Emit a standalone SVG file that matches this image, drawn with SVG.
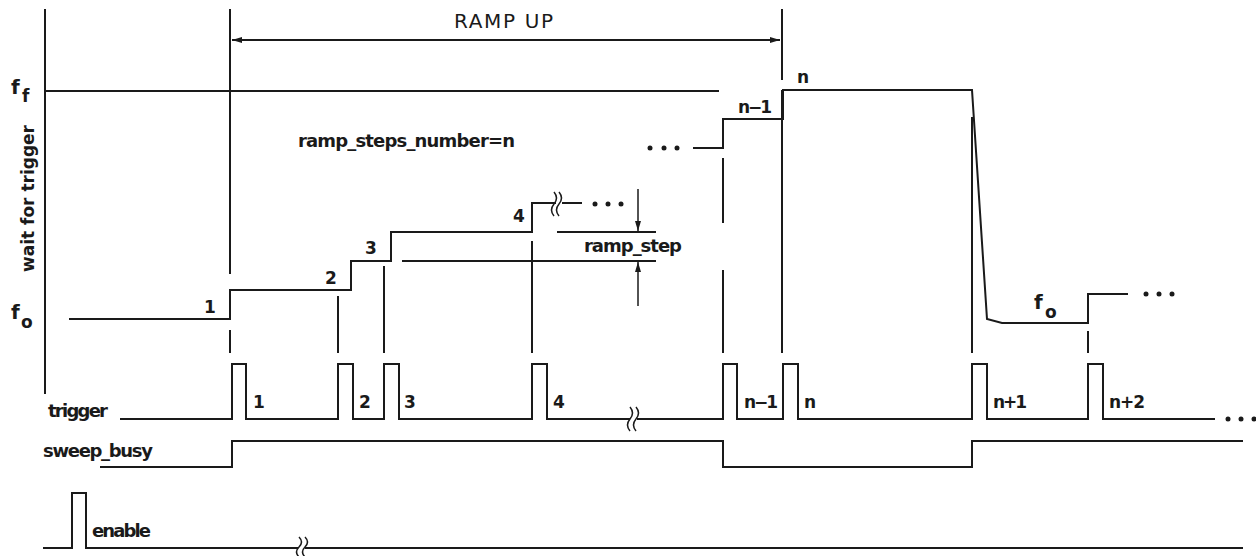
<svg xmlns="http://www.w3.org/2000/svg" width="1256" height="556" viewBox="0 0 1256 556">
<defs>
<marker id="ah" viewBox="0 0 10 6" refX="10" refY="3" markerWidth="10" markerHeight="6" markerUnits="userSpaceOnUse" orient="auto-start-reverse">
<path d="M0,0 L10,3 L0,6 Z" fill="#1a1a1a"/>
</marker>
</defs>
<style>
.ln{fill:none;stroke:#1a1a1a;stroke-width:2;stroke-linejoin:miter}
.sq{fill:none;stroke:#1a1a1a;stroke-width:1.5}
.t{font-family:"DejaVu Sans","Liberation Sans",sans-serif;font-weight:bold;font-size:17px;fill:#1a1a1a}
.big{font-size:18px}
.f{font-size:20px}
.tt{font-family:"DejaVu Sans","Liberation Sans",sans-serif;font-size:20px;fill:#1a1a1a}
.dot{fill:#1a1a1a}
</style>
<rect width="1256" height="556" fill="#ffffff"/>

<g id="axis">
<line class="ln" x1="45" y1="9" x2="45" y2="394"/>
<text class="t f" x="11" y="94">f</text>
<text class="t" x="22" y="102">f</text>
<text class="t f" x="11" y="319">f</text>
<text class="t" x="21" y="328">o</text>
<text class="t" transform="translate(34,272) rotate(-90)" textLength="147">wait for trigger</text>
</g>

<g id="ramp-up">
<line class="ln" x1="230" y1="9" x2="230" y2="274"/>
<line class="ln" x1="782" y1="9" x2="782" y2="80"/>
<line class="ln" x1="232" y1="40" x2="780" y2="40" marker-start="url(#ah)" marker-end="url(#ah)"/>
<text class="tt" x="454" y="28" textLength="99">RAMP  UP</text>
</g>

<g id="ff-line">
<line class="ln" x1="45" y1="91" x2="719" y2="91"/>
</g>

<g id="label-steps">
<text class="t big" x="298" y="147" textLength="217">ramp_steps_number=n</text>
</g>

<g id="frequency">
<polyline class="ln" points="69,319 230,319 230,290 351,290 351,261 391,261 391,232 532,232 532,203 556,203"/>
<line class="ln" x1="562" y1="203" x2="582" y2="203"/>
<path class="sq" d="M554,192 q5,6 0,12 q-5,6 0,12 M559,192 q5,6 0,12 q-5,6 0,12"/>
<circle class="dot" cx="595" cy="204" r="2.5"/>
<circle class="dot" cx="608" cy="204" r="2.5"/>
<circle class="dot" cx="621" cy="204" r="2.5"/>
<circle class="dot" cx="650" cy="148" r="2.5"/>
<circle class="dot" cx="664" cy="148" r="2.5"/>
<circle class="dot" cx="677" cy="148" r="2.5"/>
<polyline class="ln" points="693,148 723,148 723,119 783,119 783,90 972,90 987,319 1002,323 1088,323 1088,294 1128,294"/>
<circle class="dot" cx="1146" cy="294" r="2.5"/>
<circle class="dot" cx="1159" cy="294" r="2.5"/>
<circle class="dot" cx="1172" cy="294" r="2.5"/>
<text class="t" x="204" y="313">1</text>
<text class="t" x="325" y="284">2</text>
<text class="t" x="365" y="254">3</text>
<text class="t" x="513" y="222">4</text>
<text class="t" x="738" y="113" textLength="34">n−1</text>
<text class="t" x="797" y="83">n</text>
<text class="t f" x="1034" y="309">f</text>
<text class="t" x="1045" y="318">o</text>
</g>

<g id="ramp-step">
<line class="ln" x1="557" y1="232" x2="656" y2="232"/>
<line class="ln" x1="402" y1="261" x2="656" y2="261"/>
<line class="ln" x1="638" y1="189" x2="638" y2="231" marker-end="url(#ah)" style="stroke-width:1.5"/>
<line class="ln" x1="638" y1="306" x2="638" y2="262" marker-end="url(#ah)" style="stroke-width:1.5"/>
<text class="t big" x="584" y="252" textLength="98">ramp_step</text>
</g>

<g id="markers">
<line class="ln" x1="230" y1="330" x2="230" y2="353"/>
<line class="ln" x1="338" y1="296" x2="338" y2="353"/>
<line class="ln" x1="384" y1="266" x2="384" y2="353"/>
<line class="ln" x1="532" y1="241" x2="532" y2="353"/>
<line class="ln" x1="723" y1="158" x2="723" y2="223"/>
<line class="ln" x1="723" y1="270" x2="723" y2="353"/>
<line class="ln" x1="782" y1="90" x2="782" y2="353"/>
<line class="ln" x1="972" y1="117" x2="972" y2="353"/>
<line class="ln" x1="1088" y1="331" x2="1088" y2="353"/>
</g>

<g id="trigger">
<text class="t big" x="48" y="417" textLength="60">trigger</text>
<polyline class="ln" points="120,419 232,419 232,364 246,364 246,419 338,419 338,364 353,364 353,419 384,419 384,364 399,364 399,419 532,419 532,364 547,364 547,419 630,419"/>
<polyline class="ln" points="637,419 723,419 723,364 737,364 737,419 783,419 783,364 798,364 798,419 972,419 972,364 987,364 987,419 1088,419 1088,364 1103,364 1103,419 1215,419"/>
<path class="sq" d="M630,407 q5,6 0,12 q-5,6 0,12 M636,407 q5,6 0,12 q-5,6 0,12"/>
<circle class="dot" cx="1228" cy="419" r="2.5"/>
<circle class="dot" cx="1241" cy="419" r="2.5"/>
<circle class="dot" cx="1254" cy="419" r="2.5"/>
<text class="t" x="253" y="408">1</text>
<text class="t" x="359" y="408">2</text>
<text class="t" x="404" y="408">3</text>
<text class="t" x="553" y="408">4</text>
<text class="t" x="744" y="408" textLength="34">n−1</text>
<text class="t" x="804" y="408">n</text>
<text class="t" x="993" y="408" textLength="34">n+1</text>
<text class="t" x="1109" y="408" textLength="36">n+2</text>
</g>

<g id="sweep_busy">
<text class="t big" x="43" y="457" textLength="110">sweep_busy</text>
<polyline class="ln" points="100,467 232,467 232,441 723,441 723,467 972,467 972,441 1243,441"/>
</g>

<g id="enable">
<text class="t big" x="92" y="537" textLength="59">enable</text>
<polyline class="ln" points="43,548 72,548 72,493 86,493 86,548 298,548"/>
<line class="ln" x1="305" y1="548" x2="1243" y2="548"/>
<path class="sq" d="M299,537 q5,5 0,10 q-5,5 0,10 M305,537 q5,5 0,10 q-5,5 0,10"/>
</g>
</svg>
